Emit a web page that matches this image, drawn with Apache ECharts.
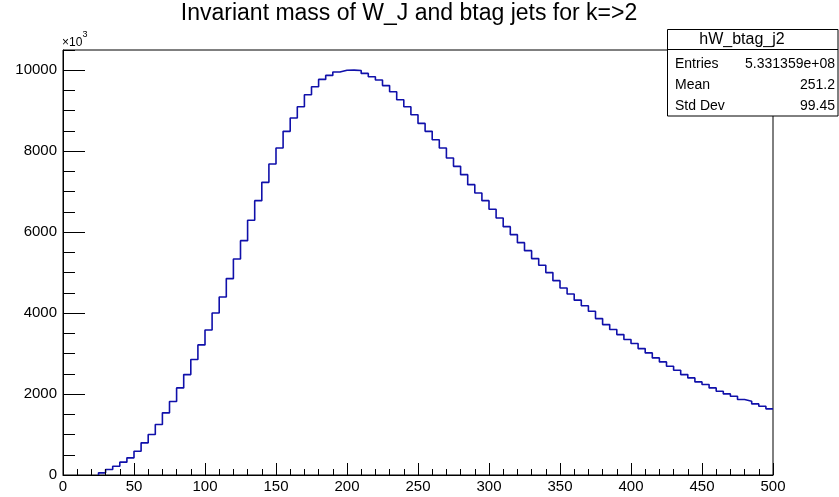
<!DOCTYPE html>
<html>
<head>
<meta charset="utf-8">
<script src="https://cdn.jsdelivr.net/npm/echarts@6/dist/echarts.min.js"></script>
<style>
html,body{margin:0;padding:0;background:#fff;}
#chart{width:839px;height:497px;}
</style>
</head>
<body>
<div id="chart"></div>
<script>
// Histogram hW_btag_j2: 100 bins of width 5 from 0 to 500 (values in units of 10^3)
const binStart = 0;
const binWidth = 5;
const counts = [
  0, 0, 0, 0, 0, 53, 136, 218, 317, 424,
  588, 794, 1000, 1247, 1535, 1815, 2152, 2481, 2852, 3214,
  3584, 4004, 4399, 4852, 5337, 5790, 6292, 6778, 7230, 7683,
  8078, 8490, 8819, 9099, 9395, 9593, 9774, 9872, 9955, 10000,
  10004, 9995, 9922, 9840, 9760, 9620, 9470, 9272, 9099, 8901,
  8687, 8490, 8284, 8078, 7831, 7625, 7420, 7173, 6967, 6778,
  6564, 6350, 6136, 5938, 5741, 5543, 5346, 5181, 5000, 4802,
  4621, 4473, 4320, 4180, 4045, 3864, 3716, 3593, 3469, 3346,
  3247, 3123, 3016, 2893, 2794, 2687, 2588, 2481, 2399, 2300,
  2235, 2152, 2070, 2004, 1946, 1864, 1823, 1757, 1700, 1634
];
const xTicks = [0, 50, 100, 150, 200, 250, 300, 350, 400, 450, 500];
const yTicks = [0, 2000, 4000, 6000, 8000, 10000];
const titleText = 'Invariant mass of W_J and btag jets for k=>2';
const statsName = 'hW_btag_j2';
const statsLabels = ['Entries', 'Mean', 'Std Dev'];
const statsValues = ['5.331359e+08', '251.2', '99.45'];

// build step outline from bins
const steps = [];
let first = counts.findIndex(v => v > 0);
if (first < 0) first = 0;
steps.push([binStart + first * binWidth, 0]);
for (let i = first; i < counts.length; i++) {
  const lo = binStart + i * binWidth, hi = lo + binWidth;
  steps.push([lo, counts[i]]);
  steps.push([hi, counts[i]]);
}

const FONT = '"Liberation Sans", Arial, Helvetica, sans-serif';
const chart = echarts.init(document.getElementById('chart'), null, {renderer: 'canvas'});
const gl = 63, gt = 50, gr = 66, gb = 22;

const option = {
  animation: false,
  backgroundColor: '#ffffff',
  grid: {left: gl, top: gt, right: gr, bottom: gb, show: true, borderColor: '#000', borderWidth: 1, backgroundColor: 'transparent'},
  xAxis: {
    type: 'value', min: xTicks[0], max: xTicks[xTicks.length - 1], interval: xTicks[1] - xTicks[0],
    axisLine: {show: true, lineStyle: {color: '#000', width: 1}},
    axisTick: {show: true, inside: true, length: 12, lineStyle: {color: '#000', width: 1}},
    minorTick: {show: true, splitNumber: 5, length: 6, lineStyle: {color: '#000', width: 1}},
    splitLine: {show: false},
    axisLabel: {color: '#000', fontSize: 15, fontFamily: FONT, margin: 4},
    z: 5
  },
  yAxis: [{
    type: 'value', min: 0, max: 10500, interval: yTicks[1] - yTicks[0],
    axisLine: {show: true, lineStyle: {color: '#000', width: 1}},
    axisTick: {show: true, inside: true, length: 22, lineStyle: {color: '#000', width: 1}},
    splitLine: {show: false},
    axisLabel: {color: '#000', fontSize: 15, fontFamily: FONT, margin: 6, showMaxLabel: false,
      formatter: v => (yTicks.indexOf(v) >= 0 ? String(v) : '')},
    z: 5
  }, {
    type: 'value', min: 0, max: 10500, interval: 500, position: 'left',
    axisLine: {show: false},
    axisTick: {show: true, inside: true, length: 12, lineStyle: {color: '#000', width: 1}},
    splitLine: {show: false},
    axisLabel: {show: false},
    z: 5
  }],
  series: [{
    type: 'line',
    yAxisIndex: 0,
    data: steps,
    showSymbol: false,
    symbol: 'none',
    lineStyle: {color: '#1010aa', width: 1.6},
    z: 3
  }],
  graphic: [
    {type: 'text', x: 409, y: 14, style: {text: titleText, font: '23px ' + FONT, fill: '#000', textAlign: 'center', textVerticalAlign: 'middle'}},
    {type: 'text', x: 62, y: 42.5, style: {text: '×10', font: '12px ' + FONT, fill: '#000', textAlign: 'left', textVerticalAlign: 'middle'}},
    {type: 'text', x: 82.5, y: 35, style: {text: '3', font: '9px ' + FONT, fill: '#000', textAlign: 'left', textVerticalAlign: 'middle'}},
    {type: 'rect', shape: {x: 667.5, y: 29.5, width: 170.5, height: 86.5}, style: {fill: '#fff', stroke: '#000', lineWidth: 1}, z: 10},
    {type: 'line', shape: {x1: 667.5, y1: 49.5, x2: 838, y2: 49.5}, style: {stroke: '#000', lineWidth: 1}, z: 11},
    {type: 'text', x: 742, y: 39.5, z: 12, style: {text: statsName, font: '16px ' + FONT, fill: '#000', textAlign: 'center', textVerticalAlign: 'middle'}},
    {type: 'text', x: 675, y: 64, z: 12, style: {text: statsLabels[0], font: '14px ' + FONT, fill: '#000', textAlign: 'left', textVerticalAlign: 'middle'}},
    {type: 'text', x: 675, y: 85, z: 12, style: {text: statsLabels[1], font: '14px ' + FONT, fill: '#000', textAlign: 'left', textVerticalAlign: 'middle'}},
    {type: 'text', x: 675, y: 106, z: 12, style: {text: statsLabels[2], font: '14px ' + FONT, fill: '#000', textAlign: 'left', textVerticalAlign: 'middle'}},
    {type: 'text', x: 835, y: 64, z: 12, style: {text: statsValues[0], font: '14px ' + FONT, fill: '#000', textAlign: 'right', textVerticalAlign: 'middle'}},
    {type: 'text', x: 835, y: 85, z: 12, style: {text: statsValues[1], font: '14px ' + FONT, fill: '#000', textAlign: 'right', textVerticalAlign: 'middle'}},
    {type: 'text', x: 835, y: 106, z: 12, style: {text: statsValues[2], font: '14px ' + FONT, fill: '#000', textAlign: 'right', textVerticalAlign: 'middle'}}
  ]
};
chart.setOption(option);
</script>
</body>
</html>
